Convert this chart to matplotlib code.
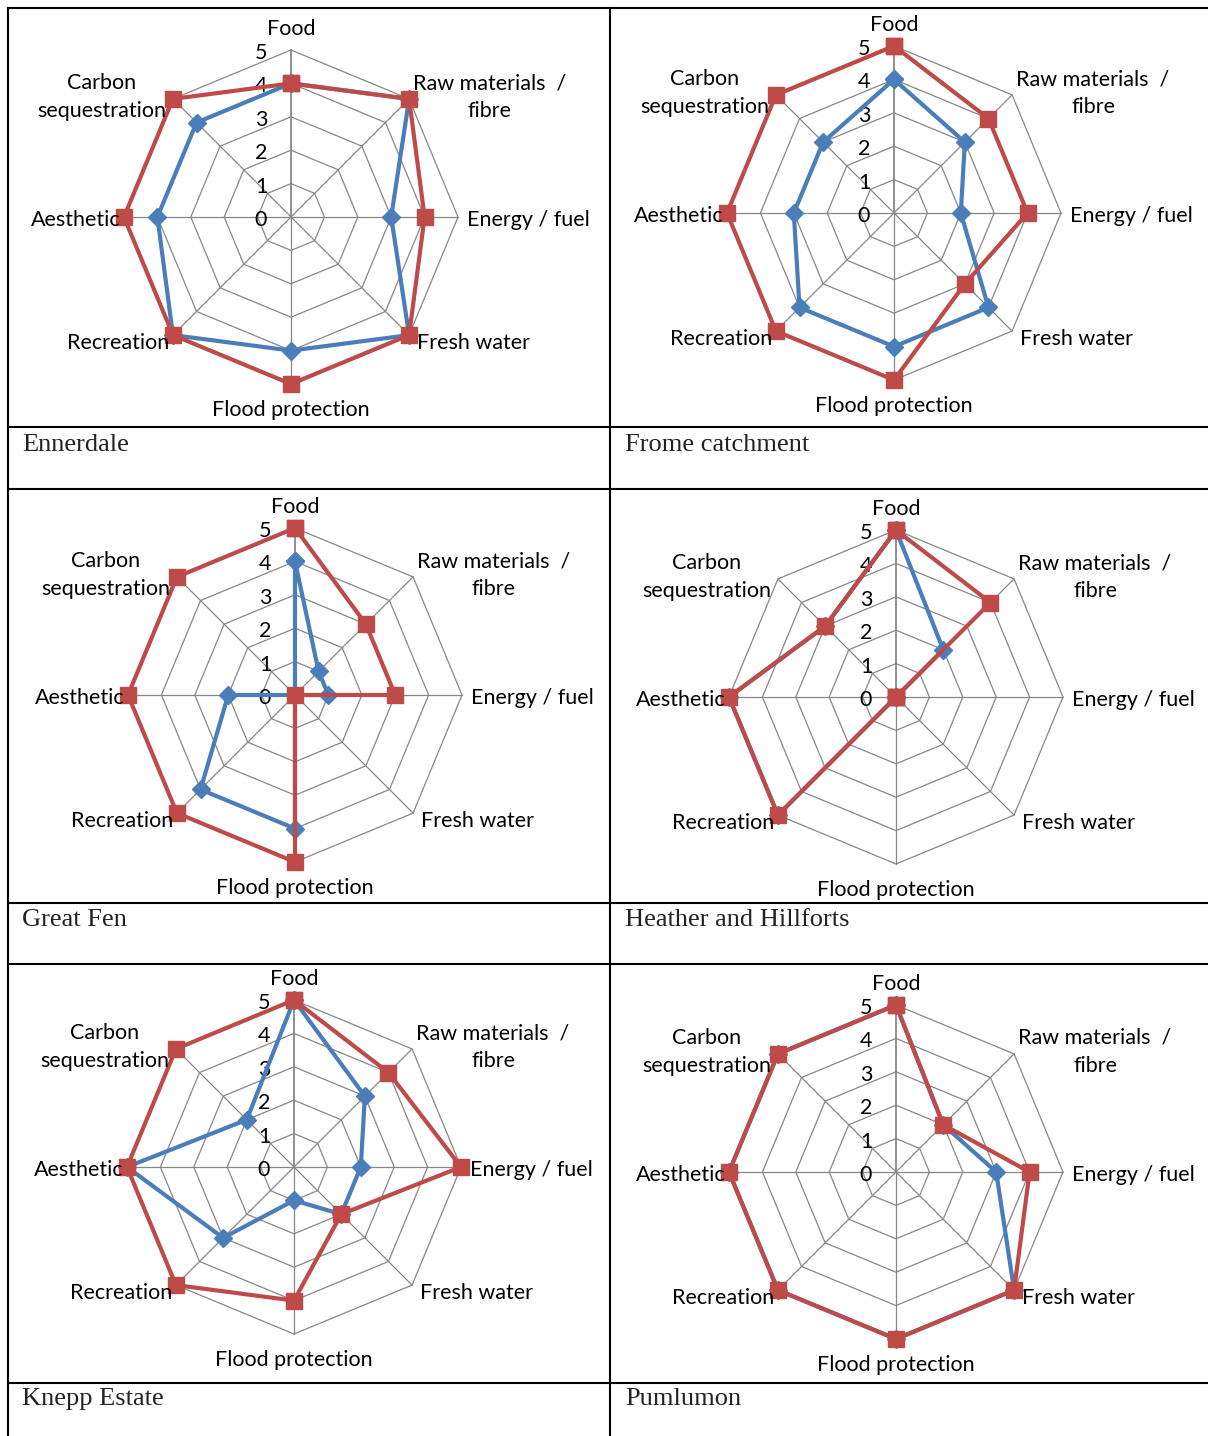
import numpy as np
import matplotlib.pyplot as plt
from matplotlib.lines import Line2D

categories = ["Food", "Raw materials  /\nfibre", "Energy / fuel", "Fresh water",
              "Flood protection", "Recreation", "Aesthetic", "Carbon\nsequestration"]
sites = ["Ennerdale", "Frome catchment", "Great Fen", "Heather and Hillforts",
         "Knepp Estate", "Pumlumon"]
levels = [0, 1, 2, 3, 4, 5]

# two series per site: blue (first) and red (second)
ennerdale_blue = [4, 5, 3, 5, 4, 5, 4, 4]
ennerdale_red = [4, 5, 4, 5, 5, 5, 5, 5]
frome_blue = [4, 3, 2, 4, 4, 4, 3, 3]
frome_red = [5, 4, 4, 3, 5, 5, 5, 5]
fen_blue = [4, 1, 1, 0, 4, 4, 2, 0]
fen_red = [5, 3, 3, 0, 5, 5, 5, 5]
heather_blue = [5, 2, 0, 0, 0, 5, 5, 3]
heather_red = [5, 4, 0, 0, 0, 5, 5, 3]
knepp_blue = [5, 3, 2, 2, 1, 3, 5, 2]
knepp_red = [5, 4, 5, 2, 4, 5, 5, 5]
pumlumon_blue = [5, 2, 3, 5, 5, 5, 5, 5]
pumlumon_red = [5, 2, 4, 5, 5, 5, 5, 5]

W, H = 1208, 1436
R = 167          # pixel radius of level 5
u = R / 5        # pixels per unit
BLUE = "#4A7EBB"
RED = "#BE4B48"
GRID = "#878787"
FONT = "Lato"
FS = 15.5

# label offsets from the centre in pixels (+y up) and alignment
label_pos = [(0, 188, "center"), (199, 120, "center"), (176, -3, "left"),
             (126, -126, "left"), (0, -193, "center"), (-122, -126, "right"),
             (-170, -3, "right"), (-189, 120, "center")]

fig = plt.figure(figsize=(W / 100, H / 100), dpi=100)
fig.patch.set_facecolor("white")

angles = np.pi / 2 - np.arange(len(categories)) * 2 * np.pi / len(categories)
cosv, sinv = np.cos(angles), np.sin(angles)


def radar(cx, cy, blue, red):
    """Draw one octagonal radar chart centred on pixel (cx, cy)"""
    hw, hh = 300, 215
    ax = fig.add_axes([(cx - hw) / W, 1 - (cy + hh) / H, 2 * hw / W, 2 * hh / H])
    ax.set_xlim(-hw / u, hw / u)
    ax.set_ylim(-hh / u, hh / u)
    ax.axis("off")

    # grid
    for lev in levels[1:]:
        ax.plot(np.append(cosv, cosv[0]) * lev, np.append(sinv, sinv[0]) * lev,
                color=GRID, lw=0.9, zorder=1)
    for i, (c, s) in enumerate(zip(cosv, sinv)):
        ax.plot([0, 5 * c], [0, 5 * s], color=GRID, lw=1.3 if i == 0 else 0.9, zorder=1)

    # series
    for vals, col, mk, ms, z in [(blue, BLUE, "D", 9, 3), (red, RED, "s", 11, 4)]:
        v = np.array(vals + vals[:1], dtype=float)
        ax.plot(v * np.append(cosv, cosv[0]), v * np.append(sinv, sinv[0]),
                color=col, lw=3.0, marker=mk, ms=ms, mec=col, mfc=col,
                zorder=z, clip_on=False)

    # value ticks
    for lev in levels:
        ax.text(-30 / u, lev - 3 / u, str(lev), ha="center", va="center",
                fontsize=FS, family=FONT, color="black", zorder=2)

    # category labels
    for name, (dx, dy, ha) in zip(categories, label_pos):
        ax.text(dx / u, dy / u, name, ha=ha, va="center", fontsize=FS, family=FONT,
                linespacing=1.5, multialignment="center", color="black", zorder=5)


radar(291, 217, ennerdale_blue, ennerdale_red)
radar(894, 213, frome_blue, frome_red)
radar(295, 695, fen_blue, fen_red)
radar(896, 697, heather_blue, heather_red)
radar(294, 1167, knepp_blue, knepp_red)
radar(896, 1172, pumlumon_blue, pumlumon_red)

# table borders
for y in [8, 427, 489, 903, 964, 1383]:
    fig.add_artist(Line2D([8 / W, 1], [1 - y / H, 1 - y / H], color="black", lw=1.5))
for x in [8, 610]:
    fig.add_artist(Line2D([x / W, x / W], [1 - 8 / H, 0], color="black", lw=1.5))

# captions
caption_xy = [(22, 451), (625, 451), (22, 926), (625, 926), (22, 1405), (625, 1405)]
for name, (x, y) in zip(sites, caption_xy):
    fig.text(x / W, 1 - y / H, name, ha="left", va="baseline", fontsize=19,
             family="Liberation Serif", color="#222222")

fig.savefig("out.png", dpi=100)
